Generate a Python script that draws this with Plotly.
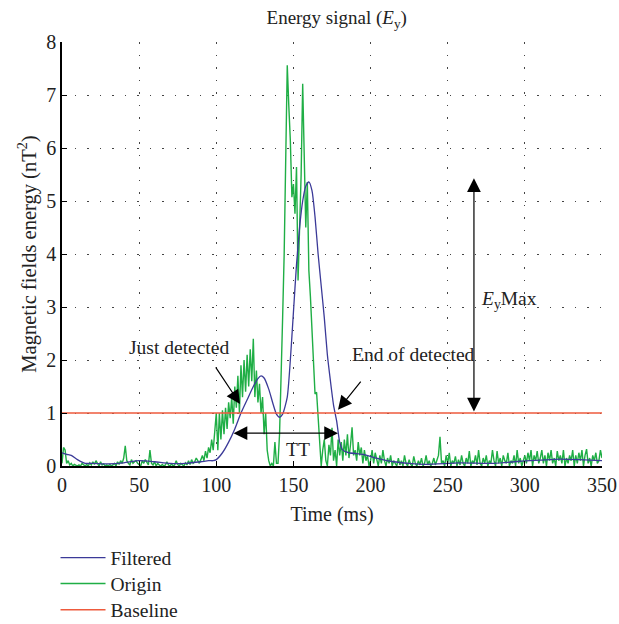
import plotly.graph_objects as go

# ---------------- data ----------------
# Origin signal, sampled every 1 ms from 0 to 350 ms
origin_t = list(range(0, 351))
origin_e = [
    0.05, 0.35, 0.30, 0.05, 0.10, 0.02, 0.05, 0.00, 0.03, 0.02,
    0.00, 0.02, 0.00, 0.05, 0.02, 0.00, 0.03, 0.00, 0.06, 0.02,
    0.08, 0.03, 0.10, 0.05, 0.00, 0.08, 0.02, 0.04, 0.00, 0.02,
    0.00, 0.03, 0.00, 0.02, 0.05, 0.00, 0.08, 0.03, 0.10, 0.05,
    0.15, 0.38, 0.10, 0.05, 0.02, 0.12, 0.05, 0.08, 0.10, 0.05,
    0.02, 0.00, 0.10, 0.05, 0.12, 0.06, 0.02, 0.30, 0.05, 0.02,
    0.08, 0.00, 0.05, 0.02, 0.00, 0.03, 0.00, 0.02, 0.08, 0.02,
    0.00, 0.04, 0.00, 0.02, 0.10, 0.03, 0.00, 0.05, 0.02, 0.00,
    0.06, 0.02, 0.10, 0.03, 0.12, 0.05, 0.08, 0.15, 0.10, 0.05,
    0.12, 0.20, 0.10, 0.28, 0.15, 0.35, 0.25, 0.50, 0.30, 0.60,
    1.00, 0.30, 1.00, 0.50, 1.05, 0.60, 1.10, 0.70, 1.20, 0.90,
    1.30, 0.80, 1.50, 1.10, 1.70, 1.00, 1.90, 1.30, 2.00, 1.40,
    2.10, 1.50, 2.20, 1.60, 2.40, 1.30, 1.80, 1.20, 1.55, 1.00,
    1.30, 0.60, 1.00, 0.30, 0.10, 0.00, 0.05, 0.00, 0.45, 0.05,
    0.05, 0.60, 1.50, 2.80, 4.00, 6.20, 7.56, 6.80, 6.14, 5.07,
    5.32, 4.76, 5.64, 3.50, 4.60, 5.50, 7.21, 5.80, 4.50, 5.36,
    3.69, 3.20, 2.50, 1.80, 1.36, 1.39, 0.90, 0.30, 0.00, 0.30,
    0.50, 0.10, 0.00, 0.40, 0.20, 0.72, 0.10, 0.30, 0.00, 0.50,
    0.20, 0.45, 0.10, 0.50, 0.20, 0.60, 0.15, 0.40, 0.73, 0.20,
    0.30, 0.10, 0.45, 0.20, 0.35, 0.05, 0.30, 0.10, 0.20, 0.00,
    0.10, 0.30, 0.05, 0.25, 0.10, 0.00, 0.20, 0.05, 0.30, 0.10,
    0.00, 0.15, 0.05, 0.20, 0.00, 0.10, 0.05, 0.00, 0.15, 0.02,
    0.10, 0.00, 0.20, 0.05, 0.00, 0.12, 0.03, 0.00, 0.18, 0.05,
    0.00, 0.10, 0.02, 0.15, 0.00, 0.05, 0.20, 0.02, 0.10, 0.00,
    0.05, 0.15, 0.02, 0.10, 0.20, 0.55, 0.05, 0.10, 0.00, 0.20,
    0.05, 0.25, 0.00, 0.10, 0.05, 0.18, 0.00, 0.12, 0.02, 0.20,
    0.05, 0.00, 0.15, 0.05, 0.28, 0.00, 0.10, 0.05, 0.20, 0.02,
    0.30, 0.05, 0.00, 0.15, 0.05, 0.20, 0.00, 0.10, 0.05, 0.30,
    0.10, 0.00, 0.28, 0.05, 0.15, 0.00, 0.20, 0.10, 0.05, 0.25,
    0.00, 0.10, 0.05, 0.20, 0.00, 0.30, 0.05, 0.15, 0.00, 0.10,
    0.20, 0.05, 0.25, 0.10, 0.30, 0.00, 0.20, 0.10, 0.28, 0.05,
    0.15, 0.30, 0.05, 0.20, 0.00, 0.25, 0.10, 0.30, 0.05, 0.15,
    0.00, 0.28, 0.10, 0.20, 0.05, 0.30, 0.00, 0.15, 0.05, 0.20,
    0.10, 0.30, 0.00, 0.20, 0.05, 0.25, 0.10, 0.30, 0.00, 0.20,
    0.32, 0.05, 0.15, 0.00, 0.20, 0.10, 0.25, 0.05, 0.10, 0.30,
    0.15,
]

# Filtered signal (smooth), read at selected times
filtered_t = [0, 3, 6, 10, 15, 20, 30, 40, 50, 60, 70, 80, 90, 95, 98, 100, 104,
              108, 112, 116, 120, 124, 127, 129, 131, 134, 137, 139, 141, 143,
              146, 148, 150, 152, 154, 156, 158, 160, 162, 164, 166, 168, 170,
              172, 174, 176, 178, 180, 182, 186, 195, 205, 215, 225, 236, 258,
              280, 297, 310, 323, 335, 350]
filtered_e = [0.25, 0.22, 0.20, 0.12, 0.05, 0.05, 0.04, 0.06, 0.10, 0.08, 0.05,
              0.05, 0.08, 0.10, 0.10, 0.12, 0.25, 0.45, 0.70, 1.00, 1.25, 1.50,
              1.65, 1.70, 1.66, 1.45, 1.15, 0.98, 0.92, 0.98, 1.30, 2.00, 2.90,
              3.80, 4.50, 5.00, 5.28, 5.36, 5.20, 4.70, 4.00, 3.40, 2.80, 2.10,
              1.60, 1.15, 0.85, 0.45, 0.30, 0.25, 0.22, 0.14, 0.08, 0.05, 0.03,
              0.06, 0.05, 0.09, 0.11, 0.13, 0.12, 0.10]

baseline_t = [0, 350]
baseline_e = [1, 1]

x_ticks = [0, 50, 100, 150, 200, 250, 300, 350]
y_ticks = [0, 1, 2, 3, 4, 5, 6, 7, 8]

FONT = "Liberation Serif, Times New Roman, serif"
TXT = "#222222"
BLUE = "#3b3a98"
GREEN = "#1fae45"
RED = "#ee5a3c"


def f(size=19):
    return dict(family=FONT, size=size, color=TXT)


fig = go.Figure()
fig.add_trace(go.Scatter(x=origin_t, y=origin_e, mode="lines", name="Origin",
                         line=dict(color=GREEN, width=1.4), legend="legend2"))
fig.add_trace(go.Scatter(x=filtered_t, y=filtered_e, mode="lines", name="Filtered",
                         line=dict(color=BLUE, width=1.3, shape="spline", smoothing=0.6),
                         legend="legend"))
fig.add_trace(go.Scatter(x=baseline_t, y=baseline_e, mode="lines", name="Baseline",
                         line=dict(color=RED, width=1.5), legend="legend3"))

grid_dash = "1.5px,11px"
fig.update_xaxes(range=[0, 350], tickvals=x_ticks, showgrid=True, gridcolor="#444",
                 griddash=grid_dash, gridwidth=1, showline=True, linecolor="black",
                 linewidth=1.5, ticks="inside", ticklen=5, tickcolor="black",
                 zeroline=False, automargin=False,
                 title=dict(text="Time (ms)", standoff=12, font=f(20)),
                 tickfont=f(20))
fig.update_yaxes(range=[0, 8], tickvals=y_ticks, showgrid=True, gridcolor="#444",
                 griddash=grid_dash, gridwidth=1, showline=True, linecolor="black",
                 linewidth=1.5, ticks="inside", ticklen=5, tickcolor="black",
                 zeroline=False, automargin=False,
                 title=dict(text="Magnetic fields energy (nT<sup>2</sup>)", standoff=4,
                            font=f(20.5)),
                 tickfont=f(20))

arrow = dict(showarrow=True, arrowhead=2, arrowsize=2.3, arrowwidth=1.2,
             arrowcolor="black", axref="x", ayref="y", xref="x", yref="y")

fig.add_annotation(x=115.4, y=1.17, ax=99, ay=1.89, text="", **arrow)
fig.add_annotation(x=178.9, y=1.06, ax=194.4, ay=1.62, text="", **arrow)
fig.add_annotation(x=178.9, y=0.62, ax=110.2, ay=0.62, text="", arrowside="end+start", **arrow)
fig.add_annotation(x=267, y=5.43, ax=267, ay=1.0, text="", arrowside="end+start", **arrow)

lab = dict(showarrow=False, xref="x", yref="y", font=f(19.5))
fig.add_annotation(x=75.8, y=2.23, text="Just detected", **lab)
fig.add_annotation(x=227.5, y=2.1, text="End of detected", **lab)
fig.add_annotation(x=153, y=0.32, text="TT", **lab)
fig.add_annotation(x=289.5, y=3.13, text="<i>E</i><sub>y</sub>Max", **lab)

leg = dict(x=-0.012, xanchor="left", yanchor="middle", itemwidth=45,
           font=f(19.5), bgcolor="rgba(0,0,0,0)")
fig.update_layout(
    width=619, height=624,
    margin=dict(l=62, r=17, t=42, b=158, autoexpand=False),
    paper_bgcolor="white", plot_bgcolor="white",
    font=f(19),
    title=dict(text="Energy signal (<i>E</i><sub>y</sub>)", x=0.544, xanchor="center",
               y=0.972, yanchor="middle", font=f(19)),
    legend=dict(y=-0.217, **leg),
    legend2=dict(y=-0.278, **leg),
    legend3=dict(y=-0.340, **leg),
    showlegend=True,
)

fig.write_html("out.html", post_script="document.body.style.margin='0';",
               config={"displayModeBar": False})
